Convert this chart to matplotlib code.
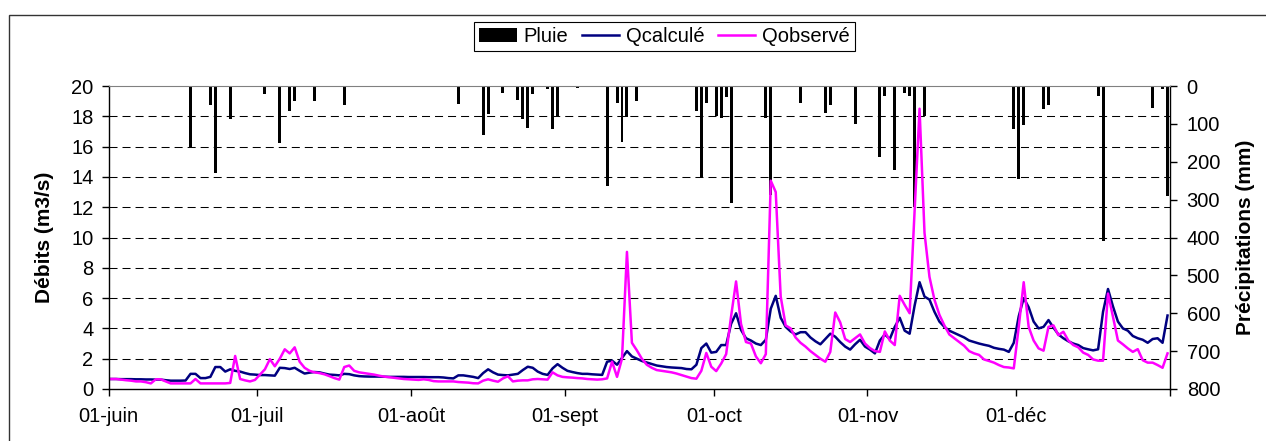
import numpy as np
import matplotlib
matplotlib.use('Agg')
import matplotlib.pyplot as plt
from matplotlib.patches import Rectangle

plt.rcParams['font.family'] = ['Liberation Sans', 'DejaVu Sans']

# débits journaliers (m3/s), du 1er juin au 31 décembre
q_calc_juin = [0.66, 0.66, 0.65, 0.65, 0.65, 0.64, 0.64, 0.63, 0.63, 0.62,
               0.62, 0.58, 0.55, 0.55, 0.55, 0.56, 1.0, 1.0, 0.72, 0.72,
               0.8, 1.45, 1.45, 1.15, 1.3, 1.2, 1.15, 1.05, 0.97, 0.95]
q_calc_juil = [0.92, 0.92, 0.9, 0.88, 1.4, 1.38, 1.32, 1.4, 1.2, 1.02,
               1.08, 1.12, 1.1, 1.02, 0.95, 0.93, 0.9, 1.0, 0.98, 0.9,
               0.85, 0.83, 0.82, 0.82, 0.82, 0.81, 0.8, 0.8, 0.8, 0.8, 0.79]
q_calc_aout = [0.79, 0.79, 0.79, 0.78, 0.78, 0.78, 0.76, 0.72, 0.7, 0.9,
               0.9, 0.85, 0.8, 0.72, 1.05, 1.3, 1.1, 0.95, 0.92, 0.9,
               0.95, 1.0, 1.25, 1.47, 1.4, 1.15, 1.0, 0.93, 1.36, 1.64, 1.4]
q_calc_sept = [1.2, 1.12, 1.05, 1.0, 1.0, 0.97, 0.95, 0.93, 1.8, 1.87,
               1.6, 2.05, 2.5, 2.15, 2.0, 1.85, 1.75, 1.65, 1.55, 1.5,
               1.45, 1.42, 1.4, 1.38, 1.32, 1.3, 1.6, 2.7, 3.0, 2.4]
q_calc_oct = [2.45, 2.9, 2.9, 4.3, 5.0, 3.9, 3.35, 3.2, 3.0, 2.9,
              3.25, 5.3, 6.15, 4.7, 4.1, 3.8, 3.6, 3.75, 3.75, 3.4,
              3.15, 2.95, 3.3, 3.65, 3.45, 3.1, 2.8, 2.6, 2.95, 3.25, 2.8]
q_calc_nov = [2.6, 2.35, 3.2, 3.6, 3.3, 4.1, 4.7, 3.85, 3.65, 5.5,
              7.05, 6.1, 5.9, 5.1, 4.45, 4.1, 3.85, 3.7, 3.55, 3.4,
              3.2, 3.1, 3.0, 2.92, 2.85, 2.72, 2.65, 2.6, 2.45, 3.05]
q_calc_dec = [4.8, 6.0, 5.4, 4.45, 4.0, 4.1, 4.55, 4.05, 3.6, 3.35,
              3.15, 3.0, 2.9, 2.7, 2.62, 2.55, 2.62, 5.1, 6.6, 5.45,
              4.45, 4.0, 3.85, 3.5, 3.35, 3.25, 3.05, 3.3, 3.35, 3.05, 4.85]

q_obs_juin = [0.66, 0.66, 0.62, 0.58, 0.55, 0.5, 0.5, 0.45, 0.37, 0.64,
              0.64, 0.5, 0.37, 0.37, 0.37, 0.37, 0.37, 0.66, 0.37, 0.37,
              0.37, 0.37, 0.37, 0.37, 0.4, 2.18, 0.66, 0.57, 0.5, 0.6]
q_obs_juil = [0.95, 1.3, 1.97, 1.5, 2.0, 2.62, 2.35, 2.75, 1.8, 1.4,
              1.2, 1.1, 1.05, 0.97, 0.85, 0.72, 0.62, 1.45, 1.55, 1.2,
              1.1, 1.05, 1.0, 0.95, 0.88, 0.82, 0.78, 0.74, 0.7, 0.66, 0.64]
q_obs_aout = [0.62, 0.6, 0.64, 0.6, 0.52, 0.5, 0.5, 0.5, 0.5, 0.46,
              0.44, 0.42, 0.38, 0.37, 0.55, 0.64, 0.55, 0.48, 0.7, 0.84,
              0.5, 0.55, 0.57, 0.57, 0.64, 0.66, 0.64, 0.62, 1.1, 0.9, 0.8]
q_obs_sept = [0.77, 0.75, 0.72, 0.7, 0.66, 0.64, 0.62, 0.64, 0.7, 1.8,
              0.8, 2.0, 9.05, 3.05, 2.55, 2.0, 1.6, 1.4, 1.25, 1.2,
              1.15, 1.1, 1.02, 0.92, 0.82, 0.72, 0.68, 1.2, 2.38, 1.47]
q_obs_oct = [1.18, 1.68, 2.3, 4.8, 7.1, 4.3, 3.1, 3.0, 2.15, 1.7,
             2.3, 13.75, 13.0, 6.1, 4.2, 4.0, 3.4, 3.05, 2.8, 2.5,
             2.25, 2.0, 1.8, 2.45, 5.05, 4.4, 3.3, 3.1, 3.35, 3.6, 3.0]
q_obs_nov = [2.7, 2.5, 2.45, 3.8, 3.2, 2.9, 6.15, 5.55, 5.0, 11.7,
             18.5, 10.3, 7.4, 5.9, 4.9, 4.2, 3.6, 3.35, 3.1, 2.85,
             2.5, 2.35, 2.25, 1.95, 1.85, 1.74, 1.58, 1.45, 1.42, 1.36]
q_obs_dec = [4.1, 7.05, 4.1, 3.2, 2.68, 2.53, 4.1, 4.2, 3.55, 3.78,
             3.2, 2.9, 2.75, 2.4, 2.25, 1.95, 1.87, 1.87, 6.3, 4.77,
             3.2, 2.95, 2.68, 2.45, 2.63, 1.9, 1.74, 1.74, 1.58, 1.4, 2.35]

q_calc = (q_calc_juin + q_calc_juil + q_calc_aout + q_calc_sept
          + q_calc_oct + q_calc_nov + q_calc_dec)
q_obs = (q_obs_juin + q_obs_juil + q_obs_aout + q_obs_sept
         + q_obs_oct + q_obs_nov + q_obs_dec)

# pluie : jour (0 = 1er juin) et hauteur (mm)
pluie_jour = [16, 20, 21, 24, 31, 34, 36, 37, 41, 47, 56,
              70, 75, 76, 79, 82, 83, 84, 85, 88, 89, 90, 94,
              100, 102, 103, 104, 106, 118, 119, 120, 122, 123, 124, 125,
              132, 133, 139, 144, 145, 150, 155, 156, 158, 160, 161, 162, 164,
              182, 183, 184, 188, 189, 199, 200, 210, 212, 213]
pluie_mm = [165, 50, 229, 86, 22, 151, 65, 40, 40, 50, 3,
            48, 129, 75, 19, 37, 87, 112, 22, 8, 114, 79, 4,
            264, 44, 147, 83, 40, 65, 239, 44, 80, 85, 28, 310,
            85, 288, 44, 72, 50, 100, 187, 26, 222, 19, 26, 320, 80,
            114, 246, 104, 62, 50, 27, 409, 57, 9, 290]

mois_debut = [0, 30, 61, 92, 122, 153, 183, 214]
mois_labels = ['01-juin', '01-juil', '01-août', '01-sept', '01-oct',
               '01-nov', '01-déc', '']

W, H = 1266, 441
fig = plt.figure(figsize=(W / 100, H / 100), dpi=100)
ax = fig.add_axes([108.7 / W, 1 - 389 / H, (1170 - 108.7) / W, (389 - 86) / H])
ax2 = ax.twinx()
ax.set_zorder(ax2.get_zorder() + 1)
ax.patch.set_visible(False)

# pluie sur l'axe de droite, inversé
bars = ax2.bar(np.array(pluie_jour) + 0.5, pluie_mm, width=0.6,
               color='black', label='Pluie')
ax2.set_ylim(800, 0)
ax2.set_yticks(range(0, 801, 100))

jours = np.arange(len(q_calc)) + 0.5
l1, = ax.plot(jours, q_calc, color='#000080', lw=1.8, label='Qcalculé')
l2, = ax.plot(jours, q_obs, color='#FF00FF', lw=1.8, label='Qobservé')

ax.set_xlim(0, 214)
ax.set_ylim(0, 20)
ax.set_yticks(range(0, 21, 2))
ax.set_xticks(mois_debut)
ax.set_xticklabels(mois_labels)

ax.grid(axis='y', color='black', lw=0.75, linestyle=(0, (7.7, 4.8)))
gl = ax.get_ygridlines()
gl[0].set_visible(False)
gl[-1].set_visible(False)

for a in (ax, ax2):
    a.tick_params(labelsize=14.5, direction='out', length=5, width=1, colors='black')
ax.tick_params(axis='y', pad=6)
ax.tick_params(axis='x', pad=8)
ax2.tick_params(axis='y', pad=7)

ax.spines['right'].set_visible(False)
ax.spines['top'].set_color('#808080')
for s in ('left', 'bottom'):
    ax.spines[s].set_linewidth(1)
for s in ('left', 'top', 'bottom'):
    ax2.spines[s].set_visible(False)
ax2.spines['right'].set_linewidth(1)

ax.set_ylabel('Débits (m3/s)', fontsize=15, fontweight='bold')
ax.yaxis.set_label_coords(-0.052, 0.5)
ax2.set_ylabel('Précipitations (mm)', fontsize=15, fontweight='bold')
ax2.yaxis.set_label_coords(1.062, 0.5)

leg = fig.legend(handles=[bars, l1, l2], loc='center',
                 bbox_to_anchor=(664.5 / W, 1 - 36.5 / H), ncol=3,
                 fontsize=14.5, frameon=True, fancybox=False,
                 edgecolor='black', framealpha=1, borderpad=0.25,
                 handlelength=1.85, handletextpad=0.35, columnspacing=0.65,
                 borderaxespad=0)
leg.get_frame().set_linewidth(0.8)

# cadre extérieur du graphique
fig.patches.append(Rectangle((9 / W, -0.1), 1.2, 1 - 15 / H + 0.1,
                             transform=fig.transFigure, fill=False,
                             edgecolor='#333333', lw=1))

fig.savefig('out.png', dpi=100)
